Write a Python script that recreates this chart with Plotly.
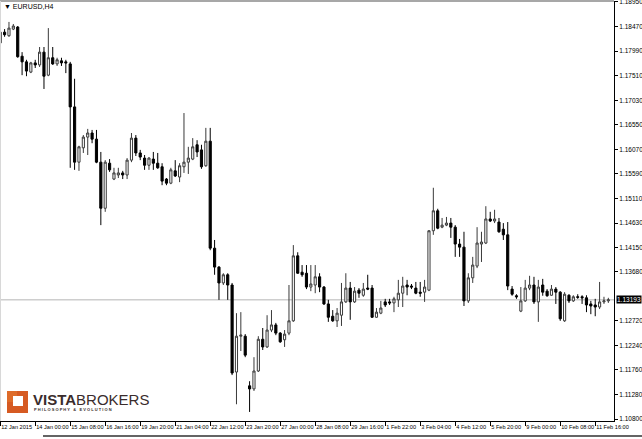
import plotly.graph_objects as go

# ---- data (EURUSD H4) ----
opens = [1.1815,1.1836,1.1829,1.1842,1.1846,1.1789,1.1778,1.1758,1.1776,1.1772,
         1.1797,1.1752,1.1786,1.1774,1.1780,1.1778,1.1774,1.1690,1.1582,1.1610,
         1.1631,1.1639,1.1627,1.1582,1.1492,1.1580,1.1549,1.1557,1.1561,1.1557,
         1.1586,1.1629,1.1600,1.1590,1.1576,1.1588,1.1580,1.1573,1.1549,1.1541,
         1.1565,1.1553,1.1573,1.1582,1.1588,1.1616,1.1606,1.1575,1.1623,1.1414,
         1.1377,1.1346,1.1362,1.1342,1.1172,1.1242,1.1242,1.1145,1.1139,1.1174,
         1.1236,1.1221,1.1254,1.1264,1.1248,1.1235,1.1248,1.1272,1.1399,1.1367,
         1.1365,1.1338,1.1342,1.1358,1.1338,1.1305,1.1281,1.1272,1.1283,1.1309,
         1.1336,1.1309,1.1332,1.1322,1.1336,1.1336,1.1279,1.1287,1.1309,1.1309,
         1.1307,1.1313,1.1326,1.1342,1.1340,1.1336,1.1328,1.1328,1.1332,1.1448,
         1.1487,1.1455,1.1459,1.1463,1.1455,1.1422,1.1416,1.1311,1.1356,1.1379,
         1.1422,1.1424,1.1471,1.1467,1.1465,1.1451,1.1440,1.1334,1.1321,1.1291,
         1.1311,1.1336,1.1342,1.1309,1.1342,1.1330,1.1322,1.1334,1.1328,1.1272,
         1.1322,1.1311,1.1319,1.1319,1.1317,1.1305,1.1303,1.1299,1.1309,1.1311]
highs = [1.1838,1.1842,1.1856,1.1852,1.1848,1.1797,1.1782,1.1778,1.1782,1.1807,
         1.1807,1.1844,1.1807,1.1786,1.1786,1.1782,1.1778,1.1745,1.1614,1.1635,
         1.1647,1.1645,1.1645,1.1602,1.1586,1.1588,1.1571,1.1571,1.1565,1.1590,
         1.1639,1.1635,1.1606,1.1596,1.1592,1.1602,1.1600,1.1580,1.1551,1.1571,
         1.1586,1.1580,1.1678,1.1612,1.1629,1.1625,1.1616,1.1649,1.1649,1.1430,
         1.1379,1.1365,1.1365,1.1346,1.1287,1.1289,1.1246,1.1154,1.1201,1.1242,
         1.1258,1.1283,1.1293,1.1268,1.1250,1.1254,1.1342,1.1420,1.1406,1.1381,
         1.1381,1.1381,1.1381,1.1365,1.1340,1.1313,1.1293,1.1297,1.1346,1.1365,
         1.1348,1.1338,1.1336,1.1346,1.1362,1.1342,1.1297,1.1311,1.1315,1.1315,
         1.1319,1.1352,1.1358,1.1352,1.1344,1.1348,1.1348,1.1352,1.1449,1.1532,
         1.1491,1.1473,1.1475,1.1473,1.1459,1.1432,1.1446,1.1365,1.1397,1.1455,
         1.1446,1.1496,1.1485,1.1489,1.1473,1.1463,1.1465,1.1340,1.1324,1.1338,
         1.1352,1.1360,1.1358,1.1352,1.1354,1.1334,1.1342,1.1338,1.1330,1.1328,
         1.1324,1.1322,1.1324,1.1322,1.1322,1.1311,1.1315,1.1348,1.1319,1.1317]
lows = [1.1807,1.1827,1.1827,1.1840,1.1786,1.1752,1.1750,1.1756,1.1766,1.1768,
        1.1725,1.1750,1.1772,1.1770,1.1770,1.1756,1.1571,1.1567,1.1565,1.1600,
        1.1596,1.1619,1.1580,1.1459,1.1485,1.1563,1.1547,1.1551,1.1549,1.1549,
        1.1582,1.1594,1.1586,1.1567,1.1567,1.1567,1.1569,1.1537,1.1537,1.1539,
        1.1553,1.1543,1.1561,1.1559,1.1586,1.1592,1.1569,1.1573,1.1410,1.1362,
        1.1313,1.1342,1.1313,1.1166,1.1109,1.1213,1.1201,1.1094,1.1135,1.1172,
        1.1215,1.1219,1.1250,1.1244,1.1229,1.1221,1.1244,1.1270,1.1364,1.1358,
        1.1334,1.1330,1.1326,1.1328,1.1303,1.1270,1.1270,1.1260,1.1262,1.1307,
        1.1274,1.1307,1.1317,1.1319,1.1332,1.1278,1.1278,1.1285,1.1299,1.1303,
        1.1289,1.1299,1.1299,1.1322,1.1334,1.1324,1.1319,1.1309,1.1330,1.1440,
        1.1451,1.1453,1.1457,1.1434,1.1397,1.1397,1.1301,1.1307,1.1346,1.1375,
        1.1387,1.1422,1.1465,1.1463,1.1444,1.1430,1.1332,1.1321,1.1315,1.1289,
        1.1309,1.1332,1.1305,1.1270,1.1321,1.1319,1.1321,1.1305,1.1272,1.1270,
        1.1307,1.1309,1.1315,1.1305,1.1289,1.1285,1.1281,1.1295,1.1305,1.1307]
closes = [1.1836,1.1831,1.1844,1.1848,1.1788,1.1778,1.1760,1.1776,1.1772,1.1797,
          1.1750,1.1786,1.1774,1.1782,1.1776,1.1776,1.1690,1.1582,1.1612,1.1631,
          1.1639,1.1627,1.1582,1.1492,1.1582,1.1567,1.1561,1.1561,1.1557,1.1586,
          1.1629,1.1600,1.1592,1.1576,1.1590,1.1580,1.1571,1.1545,1.1541,1.1567,
          1.1555,1.1575,1.1582,1.1590,1.1612,1.1602,1.1573,1.1623,1.1414,1.1377,
          1.1346,1.1362,1.1342,1.1170,1.1242,1.1244,1.1205,1.1139,1.1174,1.1236,
          1.1221,1.1254,1.1264,1.1248,1.1231,1.1246,1.1272,1.1399,1.1365,1.1362,
          1.1338,1.1344,1.1358,1.1338,1.1305,1.1279,1.1272,1.1287,1.1309,1.1336,
          1.1309,1.1330,1.1326,1.1334,1.1334,1.1279,1.1289,1.1297,1.1303,1.1307,
          1.1315,1.1326,1.1340,1.1338,1.1338,1.1326,1.1326,1.1338,1.1448,1.1487,
          1.1453,1.1459,1.1463,1.1455,1.1422,1.1416,1.1311,1.1356,1.1381,1.1424,
          1.1426,1.1471,1.1467,1.1471,1.1446,1.1440,1.1340,1.1324,1.1319,1.1311,
          1.1336,1.1342,1.1309,1.1338,1.1328,1.1321,1.1334,1.1328,1.1276,1.1324,
          1.1311,1.1319,1.1318,1.1317,1.1303,1.1301,1.1299,1.1309,1.1311,1.1313]

bar_index = list(range(len(opens)))

x_tick_bars = [0, 8, 16, 24, 32, 40, 48, 56, 64, 72, 80, 88, 96, 104, 112, 120, 128, 136]
x_tick_labels = ["12 Jan 2015", "14 Jan 00:00", "15 Jan 08:00", "16 Jan 16:00",
                 "19 Jan 20:00", "21 Jan 04:00", "22 Jan 12:00", "23 Jan 20:00",
                 "27 Jan 00:00", "28 Jan 08:00", "29 Jan 16:00", "1 Feb 22:00",
                 "3 Feb 04:00", "4 Feb 12:00", "5 Feb 20:00", "9 Feb 00:00",
                 "10 Feb 08:00", "11 Feb 16:00"]

y_tick_values = [1.18950, 1.18470, 1.17990, 1.17510, 1.17030, 1.16550, 1.16070,
                 1.15590, 1.15110, 1.14630, 1.14150, 1.13680, 1.12720, 1.12240,
                 1.11760, 1.11280, 1.10800]
y_tick_labels = ["%.5f" % v for v in y_tick_values]

bid_label = "1.13193"
symbol_title = "EURUSD,H4"

# ---- figure ----
W, H = 642, 439
ML, MR, MT, MB = 0, 28, 1, 18
PW, PH = W - ML - MR, H - MT - MB

def px(xp):
    return (xp - ML) / PW

def py(yp):
    return (H - MB - yp) / PH

FONT = "Liberation Sans, Arial, sans-serif"

fig = go.Figure()
fig.add_trace(go.Candlestick(
    x=bar_index, open=opens, high=highs, low=lows, close=closes,
    increasing=dict(line=dict(color="#3a3a3a", width=1), fillcolor="white"),
    decreasing=dict(line=dict(color="black", width=1), fillcolor="black"),
    whiskerwidth=0, hoverinfo="skip", showlegend=False,
))

bid = closes[-1]
fig.add_shape(type="line", xref="paper", yref="y", x0=0, x1=1, y0=bid, y1=bid,
              line=dict(color="#b4b4b4", width=1), layer="below")

fig.update_layout(
    width=W, height=H,
    margin=dict(l=ML, r=MR, t=MT, b=MB, pad=0, autoexpand=False),
    paper_bgcolor="white", plot_bgcolor="white",
    showlegend=False,
    font=dict(family=FONT, size=7, color="black"),
    xaxis=dict(
        autorange=False,
        range=[-0.05, -0.05 + PW / 4.375],
        rangeslider=dict(visible=False),
        tickmode="array", tickvals=x_tick_bars, ticktext=x_tick_labels,
        tickangle=0, automargin=False, ticklabeloverflow="allow",
        ticks="outside", ticklen=4, tickcolor="black", tickwidth=1,
        ticklabelposition="outside right",
        tickfont=dict(family=FONT, size=5.6, color="black"),
        showline=True, linecolor="black", linewidth=1,
        showgrid=False, zeroline=False, fixedrange=True,
    ),
    yaxis=dict(
        side="right", autorange=False, automargin=False, ticklabeloverflow="allow",
        range=[1.10763, 1.18969],
        tickmode="array", tickvals=y_tick_values, ticktext=y_tick_labels,
        ticks="outside", ticklen=3, tickcolor="black", tickwidth=1,
        tickfont=dict(family=FONT, size=6.5, color="black"),
        showline=True, linecolor="black", linewidth=1,
        showgrid=False, zeroline=False, fixedrange=True,
    ),
)

# frame lines
fig.add_shape(type="line", xref="paper", yref="paper", x0=0, x1=1, y0=1, y1=1,
              line=dict(color="#8a8a8a", width=1.5))
fig.add_shape(type="line", xref="paper", yref="paper", x0=0.0008, x1=0.0008, y0=0, y1=1,
              line=dict(color="#d8d8d8", width=1))
fig.add_shape(type="line", xref="paper", yref="paper", x0=px(43), x1=px(642), y0=py(436), y1=py(436),
              line=dict(color="#303030", width=1.5))

# bid price box
fig.add_annotation(xref="paper", yref="y", x=1.0, y=bid, xanchor="left", yanchor="middle",
                   text=bid_label, showarrow=False, bgcolor="black",
                   font=dict(family=FONT, size=6.5, color="white"), borderpad=0, xshift=2)

# symbol title
fig.add_annotation(xref="paper", yref="paper", x=px(2), y=py(7), xanchor="left", yanchor="middle",
                   text="▼ " + symbol_title, showarrow=False,
                   font=dict(family=FONT, size=7, color="black"))

# logo
fig.add_shape(type="rect", xref="paper", yref="paper", x0=px(7), x1=px(28), y0=py(413), y1=py(391),
              fillcolor="#d65a22", line=dict(width=0))
fig.add_shape(type="rect", xref="paper", yref="paper", x0=px(7), x1=px(17), y0=py(402), y1=py(391),
              fillcolor="#e2762e", line=dict(width=0), opacity=0.6)
fig.add_shape(type="rect", xref="paper", yref="paper", x0=px(13), x1=px(23), y0=py(406), y1=py(396),
              fillcolor="white", line=dict(width=0))
fig.add_annotation(xref="paper", yref="paper", x=px(31), y=py(399.5), xanchor="left", yanchor="middle",
                   text="<b>VISTA</b>BROKERS", showarrow=False,
                   font=dict(family="Liberation Sans, sans-serif", size=15, color="#3a2c2c"))
fig.add_annotation(xref="paper", yref="paper", x=px(32), y=py(409.5), xanchor="left", yanchor="middle",
                   text="<b>P H I L O S O P H Y   &amp;   E V O L U T I O N</b>", showarrow=False,
                   font=dict(family="Liberation Sans, sans-serif", size=4, color="#3a2c2c"))

fig.write_html("out.html",
               config={"displayModeBar": False, "staticPlot": True},
               post_script="document.body.style.margin='0';document.body.style.padding='0';"
                           "document.documentElement.style.overflow='hidden';")
